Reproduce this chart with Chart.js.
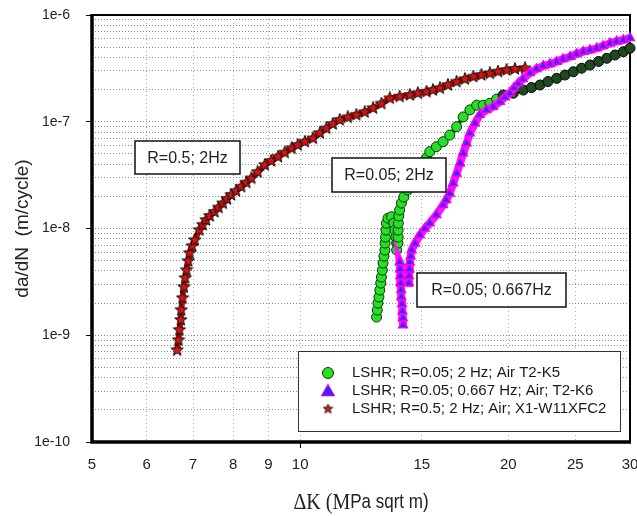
<!DOCTYPE html>
<html>
<head>
<meta charset="utf-8">
<script src="https://cdn.jsdelivr.net/npm/chart.js@4.4.1/dist/chart.umd.min.js"></script>
<style>
  html, body { margin: 0; padding: 0; background: #fff; }
  canvas { display: block; }
</style>
</head>
<body>
<canvas id="crackChart" width="637" height="516"></canvas>
<script>
// axis ticks
const xTickValues = [5, 6, 7, 8, 9, 10, 15, 20, 25, 30];
const yDecades = [1e-10, 1e-9, 1e-8, 1e-7, 1e-6];
const yMinorSteps = [2, 3, 4, 5, 6, 7, 8, 9];

const seriesLabels = [
  "LSHR; R=0.05; 2 Hz; Air T2-K5",
  "LSHR; R=0.05; 0.667 Hz; Air; T2-K6",
  "LSHR; R=0.5; 2 Hz; Air; X1-W11XFC2"
];
const boxLabels = ["R=0.5; 2Hz", "R=0.05; 2Hz", "R=0.05; 0.667Hz"];
const xTitleParts = ["\u0394K (M", "Pa sqrt m)"];

// R=0.05; 2 Hz (green circles)
const greenK = [12.90, 12.93, 12.96, 13.00, 13.04, 13.08, 13.11, 13.15, 13.18, 13.22, 13.26, 13.27, 13.29, 13.31, 13.33, 13.40,
  13.56, 13.66, 13.71, 13.75, 13.79, 13.79,
  13.85, 13.86, 13.86, 13.87, 13.89, 13.93, 14.01, 14.12, 14.31, 14.50, 14.75, 15.00, 15.23,
  15.40, 15.74, 16.10, 16.46, 16.84, 17.21, 17.60, 18.00, 18.40, 18.81, 19.24, 19.67, 20.34, 21.03, 21.61,
  22.23, 22.83, 23.50, 24.16, 24.84, 25.53, 26.26, 27.02, 27.77, 28.54, 29.34, 30.0];
const greenRate = [1.48e-9, 1.72e-9, 2.00e-9, 2.28e-9, 2.65e-9, 3.08e-9, 3.51e-9, 4.07e-9, 4.74e-9, 5.51e-9, 6.28e-9, 7.30e-9, 8.30e-9, 9.66e-9, 1.12e-8, 1.25e-8,
  1.29e-8, 1.12e-8, 9.66e-9, 8.30e-9, 7.30e-9, 6.28e-9,
  7.30e-9, 8.30e-9, 9.66e-9, 1.12e-8, 1.31e-8, 1.49e-8, 1.73e-8, 1.97e-8, 2.29e-8, 2.61e-8, 3.10e-8, 3.76e-8, 4.57e-8,
  5.24e-8, 5.83e-8, 6.50e-8, 7.50e-8, 8.98e-8, 1.11e-7, 1.29e-7, 1.43e-7, 1.43e-7, 1.49e-7, 1.63e-7, 1.78e-7, 1.85e-7, 1.98e-7, 2.09e-7,
  2.21e-7, 2.38e-7, 2.55e-7, 2.74e-7, 2.94e-7, 3.17e-7, 3.40e-7, 3.67e-7, 3.93e-7, 4.22e-7, 4.53e-7, 4.88e-7];

// R=0.05; 0.667 Hz (blue triangles)
const blueK = [14.09, 14.08, 14.06, 14.04, 14.01, 14.00, 13.98, 13.96, 13.95, 13.93,
  14.36, 14.37, 14.39, 14.41, 14.45, 14.50, 14.66, 14.90, 15.15, 15.40,
  15.74, 16.10, 16.27, 16.46, 16.65, 16.84, 17.03, 17.21, 17.41, 17.60,
  17.90, 18.19, 18.60, 19.02, 19.45, 19.78, 20.11, 20.38, 20.68, 21.00,
  21.50, 21.97, 22.47, 22.98, 23.50, 24.00, 24.57, 25.10, 25.68, 26.26,
  26.85, 27.42, 28.07, 28.68, 29.34, 30.0];
const blueRate = [1.24e-9, 1.45e-9, 1.68e-9, 1.96e-9, 2.28e-9, 2.65e-9, 3.08e-9, 3.58e-9, 4.16e-9, 4.84e-9,
  3.08e-9, 3.58e-9, 4.16e-9, 4.84e-9, 5.51e-9, 6.28e-9, 7.25e-9, 8.67e-9, 1.00e-8, 1.12e-8,
  1.34e-8, 1.66e-8, 1.85e-8, 2.13e-8, 2.65e-8, 3.28e-8, 4.07e-8, 5.06e-8, 6.28e-8, 7.79e-8,
  9.66e-8, 1.16e-7, 1.29e-7, 1.38e-7, 1.54e-7, 1.70e-7, 1.85e-7, 2.07e-7, 2.29e-7, 2.51e-7,
  2.86e-7, 3.12e-7, 3.33e-7, 3.47e-7, 3.65e-7, 3.87e-7, 4.07e-7, 4.31e-7, 4.53e-7, 4.70e-7,
  4.88e-7, 5.12e-7, 5.43e-7, 5.65e-7, 5.83e-7, 6.09e-7];

// R=0.5; 2 Hz (red stars)
const redK = [6.64, 6.67, 6.69, 6.72, 6.73, 6.76, 6.79, 6.82, 6.85, 6.89,
  6.92, 6.98, 7.04, 7.15, 7.23, 7.31, 7.40, 7.52, 7.62, 7.73,
  7.84, 7.95, 8.08, 8.22, 8.36, 8.50, 8.68, 8.89, 9.08, 9.29,
  9.50, 9.72, 9.92, 10.16, 10.44, 10.68, 10.91, 11.15, 11.41, 11.72,
  12.06, 12.40, 12.75, 13.11, 13.48, 13.93, 14.41, 14.80, 15.23, 15.56,
  15.93, 16.36, 16.84, 17.31, 17.80, 18.29, 18.81, 19.33, 19.89, 20.45, 21.15];
const redRate = [7.25e-10, 8.99e-10, 1.12e-9, 1.39e-9, 1.72e-9, 2.23e-9, 2.82e-9, 3.43e-9, 4.07e-9, 4.95e-9,
  5.88e-9, 6.84e-9, 7.78e-9, 9.66e-9, 1.08e-8, 1.20e-8, 1.31e-8, 1.43e-8, 1.57e-8, 1.72e-8,
  1.89e-8, 2.06e-8, 2.24e-8, 2.46e-8, 2.69e-8, 2.95e-8, 3.38e-8, 3.93e-8, 4.29e-8, 4.70e-8,
  5.14e-8, 5.64e-8, 6.05e-8, 6.50e-8, 6.99e-8, 7.84e-8, 8.67e-8, 9.52e-8, 1.04e-7, 1.10e-7,
  1.16e-7, 1.23e-7, 1.34e-7, 1.48e-7, 1.66e-7, 1.72e-7, 1.78e-7, 1.85e-7, 1.91e-7, 1.98e-7,
  2.06e-7, 2.21e-7, 2.37e-7, 2.51e-7, 2.64e-7, 2.74e-7, 2.84e-7, 2.95e-7, 3.05e-7, 3.12e-7, 3.17e-7];

const FONT = "'Liberation Sans', Arial, sans-serif";
const SERIF = "'Liberation Serif', 'Times New Roman', serif";

function toPoints(xs, ys) {
  return xs.map((x, i) => ({ x: x, y: ys[i] }));
}

function isDecade(v) {
  const l = Math.log10(v);
  return Math.abs(l - Math.round(l)) < 1e-9;
}

const yTickValues = [];
yDecades.forEach((d, i) => {
  yTickValues.push(d);
  if (i < yDecades.length - 1) yMinorSteps.forEach(m => yTickValues.push(m * d));
});

// filled star marker (chart.js "star" is only lines)
function makeStar(size, fill, stroke) {
  const c = document.createElement("canvas");
  c.width = size;
  c.height = size;
  const g = c.getContext("2d");
  const cx = size / 2, cy = size / 2, ro = size / 2 - 0.5, ri = ro * 0.42;
  g.beginPath();
  for (let i = 0; i < 10; i++) {
    const r = i % 2 === 0 ? ro : ri;
    const a = -Math.PI / 2 + i * Math.PI / 5;
    const px = cx + r * Math.cos(a), py = cy + r * Math.sin(a);
    if (i === 0) g.moveTo(px, py); else g.lineTo(px, py);
  }
  g.closePath();
  g.fillStyle = fill;
  g.fill();
  g.strokeStyle = stroke;
  g.lineWidth = 1;
  g.stroke();
  return c;
}

const starImg = makeStar(14, "#d41414", "#111");
const starSmall = makeStar(11, "#e01818", "#1a1a1a");

// text boxes and legend (pixel layout)
const boxRects = [
  { x: 135, y: 141, w: 105, h: 33 },
  { x: 332, y: 158, w: 114, h: 34 },
  { x: 417, y: 273, w: 149, h: 34 }
];
const legendRect = { x: 298, y: 351, w: 322, h: 80 };

const overlayPlugin = {
  id: "overlay",
  beforeDatasetsDraw(chart) {
    const { ctx, chartArea: a } = chart;
    ctx.save();
    ctx.strokeStyle = "#000";
    ctx.lineWidth = 2;
    ctx.strokeRect(a.left, a.top, a.right - a.left, a.bottom - a.top);
    ctx.lineWidth = 3.5;
    ctx.beginPath();
    ctx.moveTo(a.left, a.top - 1);
    ctx.lineTo(a.left, a.bottom);
    ctx.lineTo(a.right + 1, a.bottom);
    ctx.stroke();
    ctx.restore();
  },
  afterDatasetsDraw(chart) {
    const ctx = chart.ctx;
    const a = chart.chartArea;
    const xs = chart.scales.x;
    ctx.save();

    // x tick labels (drawn here so they do not squeeze the plot area)
    ctx.font = "15px " + FONT;
    ctx.fillStyle = "#222";
    ctx.textAlign = "center";
    ctx.textBaseline = "middle";
    xTickValues.forEach(v => {
      ctx.fillText(String(v), xs.getPixelForValue(v), a.bottom + 23);
    });

    // x title: serif "ΔK (M", sans remainder, slightly tall like the original
    ctx.save();
    ctx.translate(0, 503);
    ctx.scale(1, 1.15);
    ctx.textAlign = "left";
    ctx.font = "20px " + SERIF;
    const w1 = ctx.measureText(xTitleParts[0]).width;
    ctx.font = "17px " + FONT;
    const w2 = ctx.measureText(xTitleParts[1]).width;
    const x0 = (a.left + a.right) / 2 - (w1 + w2) / 2;
    ctx.font = "20px " + SERIF;
    ctx.fillText(xTitleParts[0], x0, 0);
    ctx.font = "17px " + FONT;
    ctx.fillText(xTitleParts[1], x0 + w1, 0);
    ctx.restore();

    // annotation boxes
    ctx.font = "16px " + FONT;
    ctx.textAlign = "center";
    ctx.textBaseline = "middle";
    boxRects.forEach((r, i) => {
      ctx.fillStyle = "#fff";
      ctx.fillRect(r.x, r.y, r.w, r.h);
      ctx.strokeStyle = "#111";
      ctx.lineWidth = 1.5;
      ctx.strokeRect(r.x, r.y, r.w, r.h);
      ctx.fillStyle = "#222";
      ctx.fillText(boxLabels[i], r.x + r.w / 2, r.y + r.h / 2 + 1);
    });

    // legend
    const L = legendRect;
    ctx.fillStyle = "#fff";
    ctx.fillRect(L.x, L.y, L.w, L.h);
    ctx.strokeStyle = "#333";
    ctx.lineWidth = 1;
    ctx.strokeRect(L.x + 0.5, L.y + 0.5, L.w, L.h);
    ctx.font = "15px " + FONT;
    ctx.textAlign = "left";
    const rowY = [373, 391, 409];
    const mx = 328;
    chart.data.datasets.forEach((ds, i) => {
      const y = rowY[i];
      if (i === 0) {
        ctx.beginPath();
        ctx.arc(mx, y, 5.5, 0, Math.PI * 2);
        ctx.fillStyle = "#26e026";
        ctx.fill();
        ctx.strokeStyle = "#0c330c";
        ctx.lineWidth = 1;
        ctx.stroke();
      } else if (i === 1) {
        ctx.beginPath();
        ctx.moveTo(mx, y - 6);
        ctx.lineTo(mx + 6, y + 4.5);
        ctx.lineTo(mx - 6, y + 4.5);
        ctx.closePath();
        ctx.fillStyle = "#2b2bff";
        ctx.fill();
        ctx.strokeStyle = "#b000ee";
        ctx.lineWidth = 1.5;
        ctx.stroke();
      } else {
        ctx.drawImage(starSmall, mx - 5.5, y - 5.5);
      }
      ctx.fillStyle = "#1a1a1a";
      ctx.fillText(ds.label, 352, y);
    });
    ctx.restore();
  }
};

const ctx = document.getElementById("crackChart").getContext("2d");

new Chart(ctx, {
  type: "scatter",
  data: {
    datasets: [
      {
        label: seriesLabels[0],
        data: toPoints(greenK, greenRate),
        showLine: true,
        borderColor: "#143d14",
        borderWidth: 4,
        pointStyle: "circle",
        pointRadius: 5,
        pointBackgroundColor: (c) => (c.raw && c.raw.x > 19.5 ? "#1f4a1f" : "#26e026"),
        pointBorderColor: (c) => (c.raw && c.raw.x > 19.5 ? "#050505" : "#0c330c"),
        pointBorderWidth: 1,
        order: 1,
        clip: false
      },
      {
        label: seriesLabels[1],
        data: toPoints(blueK, blueRate),
        showLine: true,
        borderColor: "#ff10ff",
        borderWidth: 8,
        pointStyle: "triangle",
        pointRadius: 5,
        pointBackgroundColor: "#2b2bff",
        pointBorderColor: "#ee00ee",
        pointBorderWidth: 1.5,
        order: 0,
        clip: false
      },
      {
        label: seriesLabels[2],
        data: toPoints(redK, redRate),
        showLine: true,
        borderColor: "#b81212",
        borderWidth: 6,
        pointStyle: starImg,
        pointRadius: 7,
        order: 2,
        clip: false
      }
    ]
  },
  options: {
    responsive: false,
    animation: false,
    devicePixelRatio: 1,
    events: [],
    layout: { autoPadding: false, padding: { top: 15, right: 7, left: 0, bottom: 0 } },
    plugins: {
      legend: { display: false },
      tooltip: { enabled: false }
    },
    scales: {
      x: {
        type: "logarithmic",
        min: 5,
        max: 30,
        bounds: "data",
        afterBuildTicks: (s) => { s.ticks = xTickValues.map(v => ({ value: v })); },
        afterFit: (s) => {
          s.height = 74;
          s.paddingLeft = 0;
          s.paddingRight = 0;
        },
        ticks: { display: false, autoSkip: false, maxRotation: 0 },
        grid: {
          color: "#a8a8a8",
          lineWidth: 1,
          tickLength: 6,
          tickColor: (c) => (c.tick && c.tick.value === 10 ? "#000" : "rgba(0,0,0,0)")
        },
        border: { display: false, dash: [1, 3] },
        title: { display: false }
      },
      y: {
        type: "logarithmic",
        min: 1e-10,
        max: 1e-6,
        bounds: "data",
        afterBuildTicks: (s) => { s.ticks = yTickValues.map(v => ({ value: v })); },
        afterFit: (s) => {
          s.width = 92;
          s.paddingTop = 0;
          s.paddingBottom = 0;
        },
        ticks: {
          autoSkip: false,
          padding: 16,
          color: "#222",
          font: { family: FONT, size: 14 },
          callback: (v) => (isDecade(v) ? "1e" + Math.round(Math.log10(v)) : "")
        },
        grid: {
          color: "#8a8a8a",
          lineWidth: 1,
          tickLength: 6,
          tickColor: (c) => (c.tick && isDecade(c.tick.value) ? "#000" : "rgba(0,0,0,0)")
        },
        border: { display: false, dash: [1, 2] },
        title: {
          display: true,
          text: "da/dN  (m/cycle)",
          color: "#222",
          font: { family: FONT, size: 19 },
          padding: { top: 11, bottom: 0 }
        }
      }
    }
  },
  plugins: [overlayPlugin]
});
</script>
</body>
</html>
